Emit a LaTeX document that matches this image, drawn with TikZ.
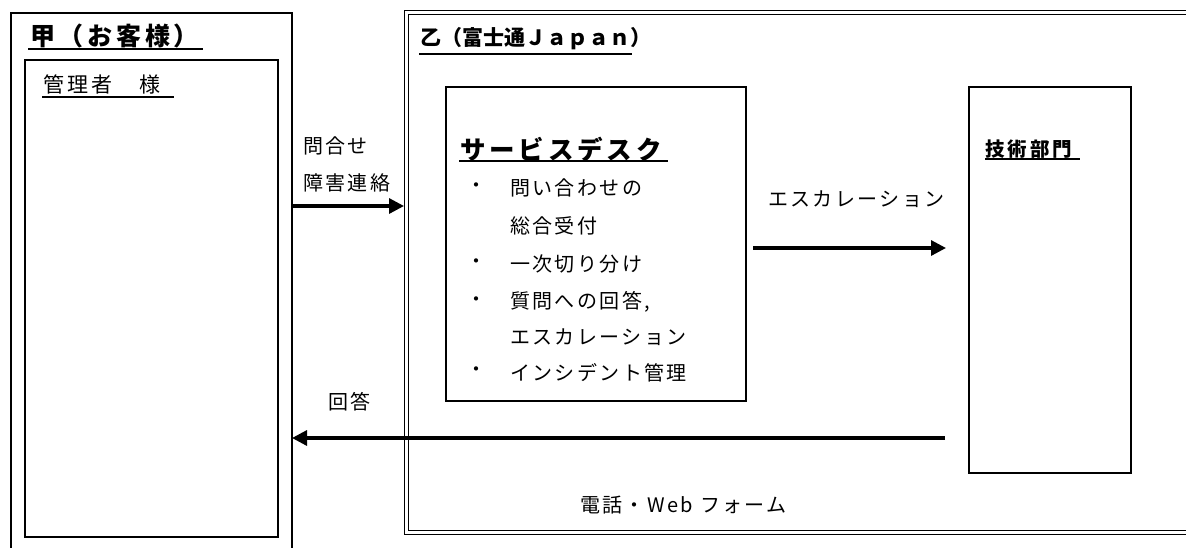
\documentclass[tikz,border=0pt]{standalone}
\usepackage{fontspec}
\setmainfont{Noto Sans CJK JP}
\newfontfamily\jpsp[LetterSpace=12]{Noto Sans CJK JP}
\newfontfamily\jpsq[LetterSpace=15]{Noto Sans CJK JP}
\newfontfamily\jp{Noto Sans CJK JP}
\usetikzlibrary{arrows.meta,calc}
\tikzset{
  box/.style={draw, line width=1.9pt},
  arr/.style={line width=3.2pt, -{Triangle[length=15pt,width=15pt]}},
  lbl/.style={anchor=west, inner sep=0pt, font=\jpsp\fontsize{20}{20}\selectfont},
  ttl/.style={anchor=west, inner sep=0pt},
  uline/.style={line width=2pt},
}
\begin{document}
\begin{tikzpicture}[x=1pt,y=-1pt]
\useasboundingbox (0,0) rectangle (1186,547);
\clip (0,0) rectangle (1186,547);
\fill[white] (0,0) rectangle (1186,547);
% boxes
\draw[box] (11,13) rectangle (292,570);
\coordinate (kouE) at (292,0);
\draw[box] (25,60) rectangle (278,537);
\draw[line width=1.7pt, double, double distance=2.3pt] (406.5,12.5) rectangle (1210,532.5);
\coordinate (otsuW) at (404,0);
\node[box, anchor=north west, minimum width=300pt, minimum height=314pt, inner sep=0pt] (sd) at (445,86) {};
\node[box, anchor=north west, minimum width=162pt, minimum height=386pt, inner sep=0pt] (tech) at (968,86) {};
% titles
\node[ttl, font=\jpsq\bfseries\fontsize{25}{25}\selectfont] (t1) at (30,36) {甲（お客様）};
\draw[uline] (28,49) -- (203,49);
\node[ttl, font=\jpsq\fontsize{21}{21}\selectfont] (t2) at (43,84) {管理者　様};
\draw[uline] (42,97) -- (174,97);
\node[ttl, font=\jp\bfseries\fontsize{21}{21}\selectfont] (t3) at (420,39) {乙（富士通Ｊａｐａｎ）};
\draw[uline] (419,54) -- (632,54);
\node[ttl, font=\jpsq\bfseries\fontsize{25.5}{26}\selectfont] (t4) at (460,149) {サービスデスク};
\draw[uline] (459,161) -- (668,161);
\node[ttl, font=\jpsq\bfseries\fontsize{19.5}{20}\selectfont] (t5) at (985,149) {技術部門};
\draw[uline] (985,159) -- (1080,159);
% service desk items
\foreach \yy in {188,264,302,372} \node[lbl] at (466,\yy) {・};
\node[lbl] (s1) at (510,188) {問い合わせの};
\node[lbl] (s2) at (510,226) {総合受付};
\node[lbl] (s3) at (510,264) {一次切り分け};
\node[lbl] (s4) at (510,302) {質問への回答,};
\node[lbl] (s5) at (510,337) {エスカレーション};
\node[lbl] (s6) at (510,373) {インシデント管理};
% labels
\node[lbl] (l1) at (303,146) {問合せ};
\node[lbl] (l2) at (303,183) {障害連絡};
\node[lbl] (l3) at (768,199) {エスカレーション};
\node[lbl] (l4) at (328,402) {回答};
\node[lbl] (l5) at (580,505) {電話・Web フォーム};
% arrows
\coordinate (escS) at (753,248);
\coordinate (escE) at (946,248);
\coordinate (repS) at (945,438);
\draw[arr] (kouE |- 0,206) -- (otsuW |- 0,206);
\draw[arr] (escS) -- (escE);
\draw[arr] (repS) -- (kouE |- repS);
\end{tikzpicture}
\end{document}
